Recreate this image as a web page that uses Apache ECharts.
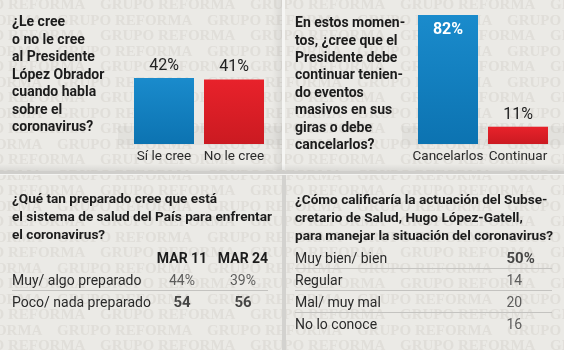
<!DOCTYPE html>
<html><head><meta charset="utf-8">
<script src="https://cdn.jsdelivr.net/npm/echarts/dist/echarts.min.js"></script>
<style>html,body{margin:0;padding:0;background:#ebeae6}#c{width:564px;height:350px}</style>
</head><body><div id="c"></div>
<script>
// ---- data ----
const q1Title = ['¿Le cree', 'o no le cree', 'al Presidente', 'López Obrador', 'cuando habla', 'sobre el', 'coronavirus?'];
const q1Categories = ['Sí le cree', 'No le cree'];
const q1Values = [42, 41];

const q2Title = ['En estos momen-', 'tos, ¿cree que el', 'Presidente debe', 'continuar tenien-', 'do eventos', 'masivos en sus', 'giras o debe', 'cancelarlos?'];
const q2Categories = ['Cancelarlos', 'Continuar'];
const q2Values = [82, 11];

const q3Title = ['¿Qué tan preparado cree que está', 'el sistema de salud del País para enfrentar', 'el coronavirus?'];
const q3Columns = ['MAR 11', 'MAR 24'];
const q3Rows = ['Muy/ algo preparado', 'Poco/ nada preparado'];
const q3Mar11 = [44, 54];
const q3Mar24 = [39, 56];

const q4Title = ['¿Cómo calificaría la actuación del Subse-', 'cretario de Salud, Hugo López-Gatell,', 'para manejar la situación del coronavirus?'];
const q4Rows = ['Muy bien/ bien', 'Regular', 'Mal/ muy mal', 'No lo conoce'];
const q4Values = [50, 14, 20, 16];

const watermarkText = 'GRUPO REFORMA';

// ---- styling ----
const F = "'Roboto', sans-serif";
const TXT = '#1c1c1c';
const blue = new echarts.graphic.LinearGradient(0, 0, 0, 1, [{offset: 0, color: '#1a8bcc'}, {offset: 1, color: '#0c73b1'}]);
const red = new echarts.graphic.LinearGradient(0, 0, 0, 1, [{offset: 0, color: '#e8222b'}, {offset: 1, color: '#cb1a21'}]);
const barColors = [blue, red];

const chart = echarts.init(document.getElementById('c'), null, {renderer: 'canvas'});

function titleStyle(lh, fs) {
  return {fontFamily: F, fontWeight: 'bold', fontSize: fs, lineHeight: lh, color: TXT};
}
const catAxis = (data, gi) => ({
  type: 'category', gridIndex: gi, data: data,
  axisLine: {show: false}, axisTick: {show: false}, splitLine: {show: false},
  axisLabel: {interval: 0, fontFamily: F, fontSize: 13.5, color: '#2a2a2a', margin: 6}
});
const valAxis = (gi) => ({type: 'value', gridIndex: gi, min: 0, max: 90, show: false, splitLine: {show: false}});

const option = {
  backgroundColor: '#ebeae6',
  animation: false,
  title: [
    {text: q1Title.join('\n'), left: 12, top: 14, padding: 0, textStyle: titleStyle(17.5, 14)},
    {text: q2Title.join('\n'), left: 295, top: 15, padding: 0, textStyle: titleStyle(17.4, 14)},
    {text: q3Title.join('\n'), left: 12, top: 191, padding: 0, textStyle: titleStyle(18, 13.6)},
    {text: q4Title.join('\n'), left: 295, top: 191, padding: 0, textStyle: titleStyle(18.3, 13.6)}
  ],
  grid: [
    {left: 129, top: 2.4, width: 140, height: 141.6},
    {left: 413, top: 2.4, width: 140, height: 141.6},
    {left: 151.5, top: 270, width: 122, height: 44},
    {left: 506, top: 248, width: 46, height: 88}
  ],
  xAxis: [
    catAxis(q1Categories, 0),
    catAxis(q2Categories, 1),
    Object.assign(catAxis(q3Columns, 2), {position: 'top',
      axisLabel: {interval: 0, fontFamily: F, fontSize: 14, fontWeight: 'bold', color: TXT, margin: 4}}),
    {type: 'value', gridIndex: 3, min: 0, max: 1, show: false}
  ],
  yAxis: [
    valAxis(0),
    valAxis(1),
    Object.assign(catAxis(q3Rows, 2), {inverse: true,
      axisLabel: {interval: 0, fontFamily: F, fontSize: 14, color: '#2a2a2a', align: 'left', margin: 139.5}}),
    Object.assign(catAxis(q4Rows, 3), {inverse: true,
      axisLabel: {interval: 0, fontFamily: F, fontSize: 14, color: '#2a2a2a', align: 'left', margin: 211}})
  ],
  series: [
    {
      type: 'bar', xAxisIndex: 0, yAxisIndex: 0, barWidth: 60,
      data: q1Values.map((v, i) => ({value: v, itemStyle: {color: barColors[i]}})),
      label: {show: true, position: 'top', distance: 4, formatter: '{c}%',
        fontFamily: F, fontSize: 16, color: '#222'}
    },
    {
      type: 'bar', xAxisIndex: 1, yAxisIndex: 1, barWidth: 60,
      data: q2Values.map((v, i) => ({
        value: v, itemStyle: {color: barColors[i]},
        label: i === 0 ? {position: 'insideTop', distance: 7, color: '#fff', fontWeight: 'bold'} : {position: 'top', distance: 4, color: '#222'}
      })),
      label: {show: true, formatter: '{c}%', fontFamily: F, fontSize: 16}
    },
    {
      type: 'scatter', xAxisIndex: 2, yAxisIndex: 2, symbolSize: 1,
      itemStyle: {color: 'rgba(0,0,0,0)'},
      data: q3Mar11.map((v, i) => [0, i, v]).concat(q3Mar24.map((v, i) => [1, i, v])),
      label: {show: true, position: 'inside', fontFamily: F, fontSize: 14, color: '#3a3a3a',
        formatter: p => p.data[1] === 0 ? p.data[2] + '%' : '{b|' + p.data[2] + '}',
        rich: {b: {fontFamily: F, fontSize: 15, fontWeight: 'bold', color: TXT}}}
    },
    {
      type: 'scatter', xAxisIndex: 3, yAxisIndex: 3, symbolSize: 1,
      itemStyle: {color: 'rgba(0,0,0,0)'},
      data: q4Values.map((v, i) => [0, i, v]),
      label: {show: true, position: 'right', distance: 0, fontFamily: F, fontSize: 14, color: '#3a3a3a',
        formatter: p => p.data[1] === 0 ? '{b|' + p.data[2] + '%}' : String(p.data[2]),
        rich: {b: {fontFamily: F, fontSize: 15, fontWeight: 'bold', color: TXT}}}
    }
  ]
};
chart.setOption(option);

// ---- decoration: watermark, dividers, table rules ----
const g = [];
for (let r = 0; r < 24; r++) {
  const y = 5.5 + r * 15.5;
  const off = (r % 2) ? -93 : -50;
  for (let k = 0; k < 6; k++) {
    g.push({type: 'text', z: -10, silent: true,
      style: {text: watermarkText, x: off + k * 150, y: y, textVerticalAlign: 'middle',
        font: 'bold 15px "Liberation Serif", "DejaVu Serif", serif', fill: '#e0ded9'}});
  }
}
// bar shelves
g.push({type: 'rect', z: -5, shape: {x: 118, y: 126, width: 164, height: 19}, style: {fill: 'rgba(0,0,0,0.035)'}});
g.push({type: 'rect', z: -5, shape: {x: 402, y: 126, width: 162, height: 19}, style: {fill: 'rgba(0,0,0,0.035)'}});
// vertical divider
g.push({type: 'rect', z: -4, shape: {x: 272, y: 0, width: 10, height: 170},
  style: {fill: new echarts.graphic.LinearGradient(0, 0, 1, 0, [{offset: 0, color: 'rgba(0,0,0,0)'}, {offset: 1, color: 'rgba(0,0,0,0.07)'}])}});
g.push({type: 'rect', z: -4, shape: {x: 282, y: 0, width: 3, height: 170}, style: {fill: '#f5f5f3'}});
g.push({type: 'rect', z: -4, shape: {x: 282, y: 175, width: 4, height: 175}, style: {fill: '#d3d2cf'}});
// horizontal divider
g.push({type: 'rect', z: -4, shape: {x: 0, y: 164, width: 564, height: 7},
  style: {fill: new echarts.graphic.LinearGradient(0, 0, 0, 1, [{offset: 0, color: 'rgba(0,0,0,0)'}, {offset: 1, color: 'rgba(0,0,0,0.08)'}])}});
g.push({type: 'rect', z: -4, shape: {x: 0, y: 171, width: 564, height: 3}, style: {fill: '#cfcecb'}});
g.push({type: 'rect', z: -4, shape: {x: 0, y: 174, width: 564, height: 1}, style: {fill: '#f4f4f2'}});

// table rules between rows, positioned from the category axes
function rules(yAxisIndex, n, x1, x2) {
  for (let i = 0; i < n - 1; i++) {
    const a = chart.convertToPixel({yAxisIndex: yAxisIndex}, i);
    const b = chart.convertToPixel({yAxisIndex: yAxisIndex}, i + 1);
    const y = Math.round((a + b) / 2) - 1.5;
    g.push({type: 'line', z: -3, shape: {x1: x1, y1: y, x2: x2, y2: y}, style: {stroke: '#c4c3c0', lineWidth: 1}});
  }
}
rules(2, q3Rows.length, 12, 268);
rules(3, q4Rows.length, 295, 552);

chart.setOption({graphic: g});
</script>
</body></html>
